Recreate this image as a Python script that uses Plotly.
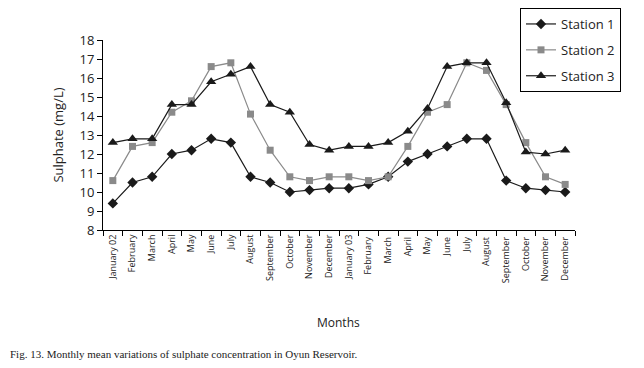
import plotly.graph_objects as go

months = ["January 02", "February", "March", "April", "May", "June", "July", "August",
          "September", "October", "November", "December", "January 03", "February ", "March ",
          "April ", "May ", "June ", "July ", "August ", "September ", "October ", "November ", "December "]

station1 = [9.4, 10.5, 10.8, 12.0, 12.2, 12.8, 12.6, 10.8, 10.5, 10.0, 10.1, 10.2,
            10.2, 10.4, 10.8, 11.6, 12.0, 12.4, 12.8, 12.8, 10.6, 10.2, 10.1, 10.0]
station2 = [10.6, 12.4, 12.6, 14.2, 14.8, 16.6, 16.8, 14.1, 12.2, 10.8, 10.6, 10.8,
            10.8, 10.6, 10.8, 12.4, 14.2, 14.6, 16.8, 16.4, 14.6, 12.6, 10.8, 10.4]
station3 = [12.6, 12.8, 12.8, 14.6, 14.6, 15.8, 16.2, 16.6, 14.6, 14.2, 12.5, 12.2,
            12.4, 12.4, 12.6, 13.2, 14.4, 16.6, 16.8, 16.8, 14.7, 12.1, 12.0, 12.2]
yticks = list(range(8, 19))

font_sans = "Open Sans, Lato, sans-serif"

fig = go.Figure()
fig.add_trace(go.Scatter(x=months, y=station1, name="Station 1", mode="lines+markers",
                         legendgroup="s1",
                         line=dict(color="#1a1a1a", width=1.2),
                         marker=dict(symbol="diamond", size=8, color="#1a1a1a")))
fig.add_trace(go.Scatter(x=months, y=station2, name="Station 2", mode="lines+markers",
                         legendgroup="s2",
                         line=dict(color="#8a8a8a", width=1.2),
                         marker=dict(symbol="square", size=7, color="#8a8a8a")))
fig.add_trace(go.Scatter(x=months, y=station3, name="Station 3", mode="lines+markers",
                         legendgroup="s3",
                         line=dict(color="#1a1a1a", width=1.2),
                         marker=dict(symbol="triangle-up", size=9, color="#1a1a1a")))

pw, ph = 644 - 103 - 69, 368 - 40 - 138
def px2paper(xp, yp):
    return (xp - 103) / pw, (368 - 138 - yp) / ph

lx, ly = px2paper(520, 8)
ax, ay = px2paper(338, 322)
cx, cy = px2paper(8, 354)

fig.update_layout(
    width=644, height=368,
    margin=dict(l=103, r=69, t=40, b=138, autoexpand=False),
    paper_bgcolor="white", plot_bgcolor="white",
    showlegend=True,
    legend=dict(x=lx, y=ly, xanchor="left", yanchor="top",
                bordercolor="black", borderwidth=1, bgcolor="white",
                font=dict(family=font_sans, size=13, color="#222"),
                traceorder="grouped", tracegroupgap=6),
    xaxis=dict(type="category", range=[-0.5, 23.5], tickson="boundaries",
               showline=True, linecolor="black", linewidth=1,
               ticks="outside", ticklen=5, tickcolor="black",
               tickangle=-90, tickfont=dict(family=font_sans, size=9, color="#222"),
               showgrid=False, zeroline=False),
    yaxis=dict(range=[8, 18], tickvals=yticks,
               showline=True, linecolor="black", linewidth=1,
               ticks="outside", ticklen=5, tickcolor="black",
               tickfont=dict(family=font_sans, size=13, color="#222"),
               showgrid=False, zeroline=False,
               title=dict(text="Sulphate (mg/L)", font=dict(family=font_sans, size=13, color="#222"),
                          standoff=12)),
    annotations=[
        dict(text="Months", x=ax, y=ay, xref="paper", yref="paper", showarrow=False,
             xanchor="center", yanchor="middle",
             font=dict(family=font_sans, size=12, color="#222")),
        dict(text="Fig. 13. Monthly mean variations of sulphate concentration in Oyun Reservoir.",
             x=cx, y=cy, xref="paper", yref="paper", showarrow=False,
             xanchor="left", yanchor="middle",
             font=dict(family="Liberation Serif, Times New Roman, serif", size=11, color="#222")),
    ],
)

fig.write_html("out.html", config={"displayModeBar": False})

# remove default page margin so the figure sits at the window origin
with open("out.html", "r", encoding="utf-8") as f:
    html = f.read()
html = html.replace("<body>", '<body style="margin:0;padding:0;">', 1)
with open("out.html", "w", encoding="utf-8") as f:
    f.write(html)
